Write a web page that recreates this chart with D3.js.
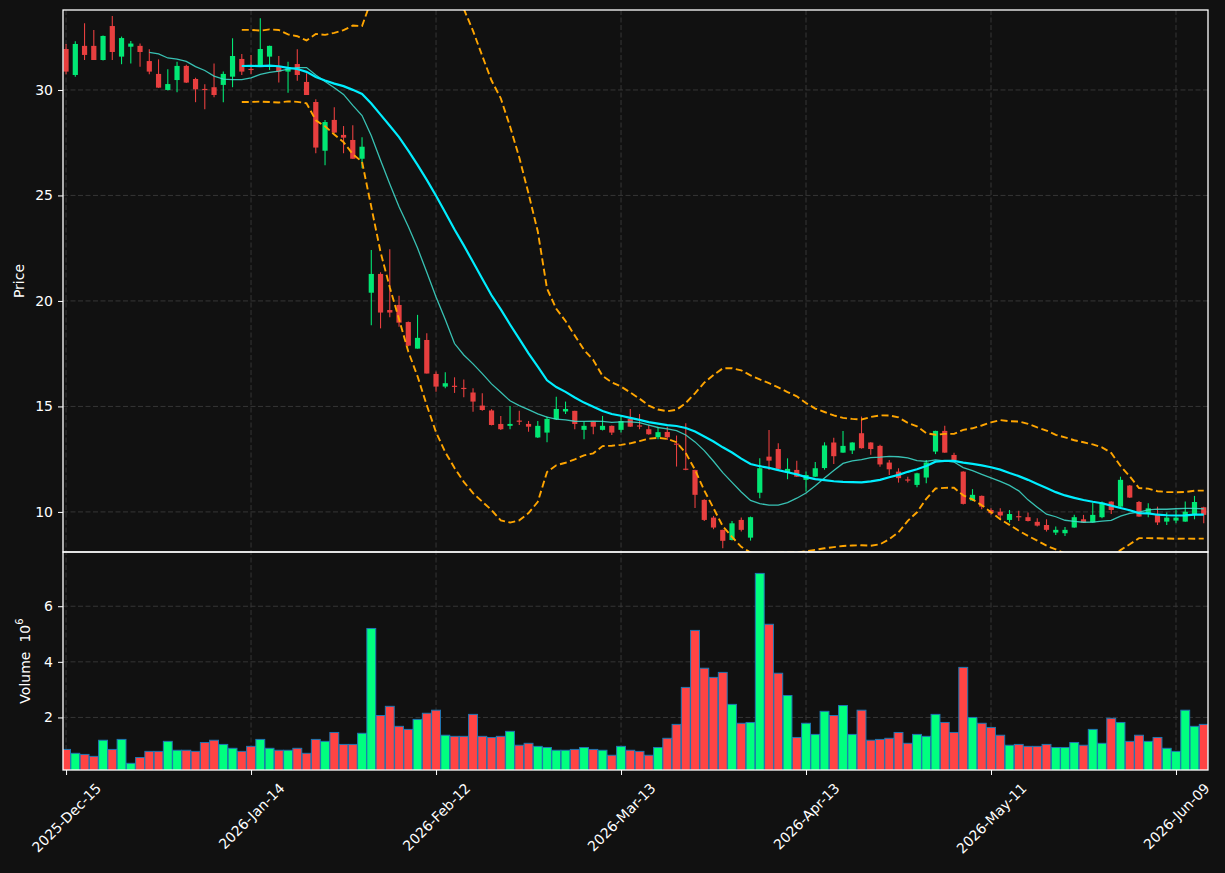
<!DOCTYPE html>
<html>
<head>
<meta charset="utf-8">
<script src="https://cdn.jsdelivr.net/npm/d3@7"></script>
<style>
  html, body { margin: 0; padding: 0; background: #111111; }
  svg { display: block; }
</style>
</head>
<body>
<div id="chart"></div>
<script>
// daily candles, index 0 = 2025-12-15 (trading days only)
const opens = [
  31.94, 30.71, 32.09, 32.09, 31.42, 33.03, 31.58, 32.05, 32.09, 31.37,
  30.76, 30.00, 30.47, 31.14, 30.52, 30.05, 30.13, 30.24, 30.63, 31.47,
  31.00, 31.18, 31.58, 31.10, 30.87, 31.23, 30.38, 29.43, 27.12, 28.58,
  27.87, 27.63, 26.74, 20.39, 21.28, 19.57, 19.81, 19.00, 17.74, 18.15,
  16.54, 15.94, 15.98, 15.88, 15.66, 15.04, 14.81, 14.17, 14.08, 14.33,
  14.17, 13.53, 13.76, 14.39, 14.76, 14.79, 13.89, 14.28, 13.89, 14.08,
  13.89, 14.41, 14.10, 13.92, 13.54, 13.79, 13.24, 12.05, 11.99, 10.57,
  9.73, 9.15, 8.67, 9.62, 8.78, 10.91, 12.62, 12.98, 11.86, 11.99,
  11.52, 11.67, 12.08, 13.29, 12.81, 12.91, 13.73, 13.29, 13.13, 12.34,
  11.91, 11.54, 11.28, 11.63, 12.86, 13.84, 12.70, 11.91, 10.54, 10.76,
  10.09, 10.01, 9.62, 9.80, 9.75, 9.53, 9.38, 9.02, 8.99, 9.26,
  9.65, 9.50, 9.75, 10.49, 10.25, 11.25, 10.47, 9.94, 9.86, 9.54,
  9.59, 9.54, 9.90, 10.22
];
const highs = [
  32.18, 32.31, 33.16, 32.84, 32.58, 33.50, 32.53, 32.32, 32.20, 31.93,
  31.45, 30.98, 31.34, 31.20, 30.58, 30.27, 31.26, 30.87, 32.45, 31.71,
  31.66, 33.40, 32.10, 31.61, 31.34, 31.93, 30.79, 29.56, 28.58, 29.18,
  28.29, 28.33, 27.76, 22.42, 21.36, 22.45, 20.24, 19.02, 19.34, 18.47,
  16.65, 16.62, 16.38, 16.28, 15.86, 15.62, 14.87, 14.55, 15.02, 14.79,
  14.31, 14.31, 14.52, 15.46, 15.23, 14.80, 14.28, 14.30, 14.55, 14.10,
  14.55, 14.88, 14.64, 14.12, 14.04, 14.04, 13.62, 14.20, 12.00, 10.60,
  9.81, 9.16, 9.57, 9.73, 9.78, 12.54, 13.88, 13.25, 12.54, 12.43,
  11.91, 12.37, 13.30, 13.52, 13.83, 13.30, 14.52, 13.30, 13.18, 12.46,
  12.07, 11.67, 11.86, 12.46, 13.85, 14.08, 12.81, 11.93, 11.08, 10.78,
  10.17, 10.17, 10.09, 10.05, 9.97, 9.70, 9.65, 9.31, 9.28, 9.86,
  9.86, 10.44, 10.49, 10.50, 11.67, 11.27, 10.52, 10.41, 10.25, 9.97,
  10.09, 10.49, 10.76, 10.25
];
const lows = [
  30.74, 30.63, 31.42, 31.42, 31.40, 31.42, 31.22, 31.26, 31.10, 30.74,
  30.10, 29.97, 29.89, 30.33, 29.42, 29.08, 29.65, 29.42, 30.13, 30.71,
  30.76, 31.18, 30.95, 30.35, 29.87, 30.44, 29.76, 27.00, 26.43, 27.95,
  27.00, 26.74, 26.29, 18.85, 18.70, 19.23, 18.78, 17.85, 17.74, 16.56,
  15.70, 15.86, 15.64, 15.43, 14.75, 14.80, 14.10, 13.88, 13.92, 14.12,
  13.80, 13.50, 13.30, 14.36, 14.64, 13.92, 13.45, 13.68, 13.86, 13.65,
  13.76, 14.02, 13.92, 13.66, 13.45, 13.41, 12.15, 11.98, 10.18, 9.57,
  9.18, 8.28, 8.65, 9.07, 8.64, 10.65, 11.99, 12.02, 11.55, 11.65,
  10.97, 11.65, 12.00, 12.27, 12.80, 12.75, 13.00, 12.71, 12.14, 11.75,
  11.39, 11.39, 11.17, 11.36, 12.74, 12.80, 12.45, 10.35, 10.52, 10.13,
  9.86, 9.62, 9.50, 9.57, 9.54, 9.31, 9.07, 8.91, 8.86, 9.25,
  9.49, 9.49, 9.70, 9.90, 10.24, 10.66, 9.77, 9.75, 9.38, 9.38,
  9.46, 9.53, 9.65, 9.46
];
const closes = [
  30.87, 32.18, 31.66, 31.42, 32.56, 31.80, 32.46, 32.20, 31.80, 30.87,
  30.11, 30.28, 31.14, 30.35, 30.03, 30.00, 29.76, 30.76, 31.61, 30.87,
  30.96, 31.94, 32.09, 30.87, 31.03, 30.71, 29.76, 27.27, 28.48, 27.98,
  27.74, 26.74, 27.31, 21.28, 19.45, 19.45, 18.97, 17.88, 18.25, 16.56,
  15.94, 16.10, 15.93, 15.85, 15.23, 14.83, 14.12, 13.92, 14.17, 14.30,
  14.04, 14.08, 14.41, 14.88, 14.88, 14.17, 14.08, 14.04, 14.08, 13.76,
  14.31, 14.04, 14.07, 13.68, 13.78, 13.54, 13.20, 12.00, 10.81, 9.62,
  9.26, 8.63, 9.46, 9.15, 9.75, 12.07, 12.43, 12.04, 12.04, 11.67,
  11.75, 12.07, 13.15, 12.64, 13.13, 13.29, 13.02, 12.98, 12.25, 12.02,
  11.60, 11.50, 11.83, 12.34, 13.84, 12.81, 12.46, 10.38, 10.81, 10.25,
  9.94, 9.83, 9.90, 9.76, 9.57, 9.35, 9.15, 9.15, 9.15, 9.75,
  9.50, 9.86, 10.44, 10.09, 11.52, 10.68, 9.78, 10.17, 9.50, 9.73,
  9.73, 10.01, 10.47, 9.86
];
// volume in millions
const volumes = [
  0.85, 0.71, 0.67, 0.60, 1.18, 0.85, 1.21, 0.35, 0.56, 0.78,
  0.78, 1.14, 0.82, 0.82, 0.78, 1.10, 1.18, 1.03, 0.89, 0.78,
  0.96, 1.21, 0.89, 0.82, 0.82, 0.89, 0.71, 1.21, 1.14, 1.46,
  1.03, 1.03, 1.43, 5.20, 2.07, 2.40, 1.68, 1.57, 1.93, 2.15,
  2.26, 1.36, 1.32, 1.32, 2.11, 1.32, 1.28, 1.32, 1.50, 1.00,
  1.07, 0.96, 0.92, 0.82, 0.82, 0.85, 0.92, 0.85, 0.82, 0.64,
  0.96, 0.82, 0.78, 0.64, 0.92, 1.25, 1.75, 3.08, 5.13, 3.77,
  3.44, 3.62, 2.47, 1.79, 1.82, 7.18, 5.35, 3.59, 2.79, 1.28,
  1.79, 1.39, 2.22, 2.07, 2.43, 1.39, 2.26, 1.18, 1.21, 1.25,
  1.46, 1.07, 1.39, 1.32, 2.11, 1.82, 1.46, 3.80, 2.00, 1.79,
  1.64, 1.36, 1.00, 1.03, 0.96, 0.96, 1.03, 0.92, 0.92, 1.10,
  1.00, 1.57, 1.07, 1.97, 1.82, 1.14, 1.36, 1.14, 1.28, 0.89,
  0.78, 2.26, 1.68, 1.75
];
const tickIdx = [0, 20, 40, 60, 80, 100, 120];
const tickLabels = ['2025-Dec-15', '2026-Jan-14', '2026-Feb-12', '2026-Mar-13',
                    '2026-Apr-13', '2026-May-11', '2026-Jun-09'];
const priceTicks = [10, 15, 20, 25, 30];
const volTicks = [2, 4, 6];

const upColor = '#00ff7f', downColor = '#ff4444';
const W = 1225, H = 873;
const left = 63, right = 1208, pTop = 10, pBot = 552, vBot = 770;
const n = closes.length;

const data = closes.map((c, i) => ({
  i: i, o: opens[i], h: highs[i], l: lows[i], c: c, v: volumes[i]
}));

// moving averages / bollinger from the closes
function rolling(arr, w, fn) {
  const out = [];
  for (let i = w - 1; i < arr.length; i++) {
    out.push({i: i, v: fn(arr.slice(i - w + 1, i + 1))});
  }
  return out;
}
const ma10 = rolling(closes, 10, d3.mean);
const ma20 = rolling(closes, 20, d3.mean);
const sd20 = rolling(closes, 20, a => {
  const m = d3.mean(a);
  return Math.sqrt(d3.mean(a, d => (d - m) * (d - m)));
});
const bbUp = ma20.map((d, k) => ({i: d.i, v: d.v + 2 * sd20[k].v}));
const bbLo = ma20.map((d, k) => ({i: d.i, v: d.v - 2 * sd20[k].v}));

const svg = d3.select('#chart').append('svg')
  .attr('width', W).attr('height', H)
  .style('font-family', 'DejaVu Sans, sans-serif');

svg.append('rect').attr('width', W).attr('height', H).attr('fill', '#111111');

// scales
const x = d3.scaleLinear().domain([-0.33, n - 0.54]).range([left, right]);
const yP = d3.scaleLinear().domain([8.1, 33.79]).range([pBot, pTop]);
const yV = d3.scaleLinear().domain([0.11, 7.95]).range([vBot, pBot]);
const step = x(1) - x(0);

const defs = svg.append('defs');
defs.append('clipPath').attr('id', 'clipP')
  .append('rect').attr('x', left).attr('y', pTop).attr('width', right - left).attr('height', pBot - pTop);
defs.append('clipPath').attr('id', 'clipV')
  .append('rect').attr('x', left).attr('y', pBot).attr('width', right - left).attr('height', vBot - pBot);

// grid
const grid = svg.append('g')
  .attr('stroke', '#3a3a3a').attr('stroke-width', 0.9).attr('stroke-dasharray', '5,2.5');
grid.selectAll('.gx').data(tickIdx).join('line')
  .attr('x1', d => x(d)).attr('x2', d => x(d)).attr('y1', pTop).attr('y2', vBot);
grid.selectAll('.gp').data(priceTicks).join('line')
  .attr('x1', left).attr('x2', right).attr('y1', d => yP(d)).attr('y2', d => yP(d));
grid.selectAll('.gv').data(volTicks).join('line')
  .attr('x1', left).attr('x2', right).attr('y1', d => yV(d)).attr('y2', d => yV(d));

// candles
const gP = svg.append('g').attr('clip-path', 'url(#clipP)');
const candles = gP.selectAll('.candle').data(data).join('g')
  .attr('opacity', 0.9);
candles.append('line')
  .attr('x1', d => x(d.i)).attr('x2', d => x(d.i))
  .attr('y1', d => yP(d.h)).attr('y2', d => yP(d.l))
  .attr('stroke', d => d.c >= d.o ? upColor : downColor)
  .attr('stroke-width', 1.1);
candles.append('rect')
  .attr('x', d => x(d.i) - 2.6)
  .attr('width', 5.2)
  .attr('y', d => yP(Math.max(d.o, d.c)))
  .attr('height', d => Math.max(1.2, Math.abs(yP(d.o) - yP(d.c))))
  .attr('fill', d => d.c >= d.o ? upColor : downColor);

// overlays
const line = d3.line().x(d => x(d.i)).y(d => yP(d.v));
gP.append('path').datum(ma10).attr('d', line)
  .attr('fill', 'none').attr('stroke', '#40e0d0').attr('stroke-width', 1.3).attr('opacity', 0.85);
gP.append('path').datum(ma20).attr('d', line)
  .attr('fill', 'none').attr('stroke', '#00eeff').attr('stroke-width', 2.2);
[bbUp, bbLo].forEach(b => {
  gP.append('path').datum(b).attr('d', line)
    .attr('fill', 'none').attr('stroke', '#ffa500').attr('stroke-width', 1.9)
    .attr('stroke-dasharray', '7,3.5');
});

// volume
const gV = svg.append('g').attr('clip-path', 'url(#clipV)');
gV.selectAll('.vol').data(data).join('rect')
  .attr('x', d => x(d.i) - step * 0.48)
  .attr('width', step * 0.96)
  .attr('y', d => yV(d.v))
  .attr('height', d => yV(0) - yV(d.v))
  .attr('fill', d => d.c >= d.o ? upColor : downColor)
  .attr('stroke', '#1f77b4').attr('stroke-width', 1);

// frames
svg.append('rect').attr('x', left).attr('y', pTop).attr('width', right - left).attr('height', pBot - pTop)
  .attr('fill', 'none').attr('stroke', '#ffffff').attr('stroke-width', 1.3);
svg.append('rect').attr('x', left).attr('y', pBot).attr('width', right - left).attr('height', vBot - pBot)
  .attr('fill', 'none').attr('stroke', '#ffffff').attr('stroke-width', 1.3);

// axes
function styleAxis(g) {
  g.select('.domain').remove();
  g.selectAll('.tick line').attr('stroke', '#ffffff');
  g.selectAll('.tick text').attr('fill', '#ffffff').attr('font-size', 14)
    .attr('font-family', 'DejaVu Sans, sans-serif');
}
svg.append('g').attr('transform', `translate(${left},0)`)
  .call(d3.axisLeft(yP).tickValues(priceTicks).tickSize(5).tickPadding(5))
  .call(styleAxis);
svg.append('g').attr('transform', `translate(${left},0)`)
  .call(d3.axisLeft(yV).tickValues(volTicks).tickSize(5).tickPadding(5))
  .call(styleAxis);
const xAxis = svg.append('g').attr('transform', `translate(0,${vBot})`)
  .call(d3.axisBottom(x).tickValues(tickIdx).tickFormat((d, i) => tickLabels[i]).tickSize(5).tickPadding(5))
  .call(styleAxis);
xAxis.selectAll('.tick text').each(function() {
  const t = d3.select(this);
  const len = this.getComputedTextLength();
  const hgt = (len + 16) * Math.SQRT1_2;
  t.attr('y', 0).attr('dy', null).attr('text-anchor', 'middle')
    .attr('dominant-baseline', 'central')
    .attr('transform', `translate(0,${10 + hgt / 2}) rotate(-45)`);
});

// axis titles
svg.append('text')
  .attr('transform', `translate(19,${(pTop + pBot) / 2}) rotate(-90)`)
  .attr('text-anchor', 'middle').attr('dominant-baseline', 'central')
  .attr('fill', '#ffffff').attr('font-size', 14)
  .text('Price');
const vt = svg.append('text')
  .attr('transform', `translate(25,${(pBot + vBot) / 2}) rotate(-90)`)
  .attr('text-anchor', 'middle').attr('dominant-baseline', 'central')
  .attr('fill', '#ffffff').attr('font-size', 14);
vt.append('tspan').text('Volume');
vt.append('tspan').attr('dx', 9).text('10');
vt.append('tspan').attr('dy', -6).attr('font-size', 10).text('6');
</script>
</body>
</html>
